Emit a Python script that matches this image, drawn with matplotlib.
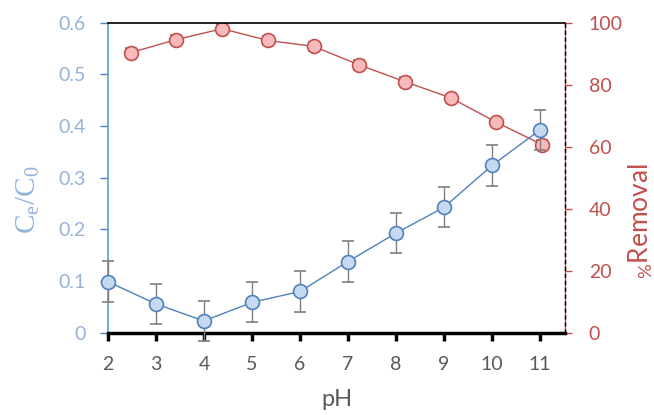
import matplotlib.pyplot as plt
import numpy as np

plt.rcParams['font.family'] = ['Lato', 'DejaVu Sans']
plt.rcParams['mathtext.fontset'] = 'custom'
plt.rcParams['mathtext.rm'] = 'Liberation Serif'
plt.rcParams['mathtext.it'] = 'Liberation Serif:italic'
plt.rcParams['mathtext.sf'] = 'Lato'

# data
ph = [2, 3, 4, 5, 6, 7, 8, 9, 10, 11]
ce_c0 = [0.099, 0.056, 0.023, 0.059, 0.080, 0.138, 0.193, 0.243, 0.324, 0.393]
ce_err = [0.04, 0.039, 0.039, 0.039, 0.04, 0.039, 0.039, 0.039, 0.039, 0.039]
removal = [90.4, 94.6, 98.1, 94.3, 92.4, 86.4, 81.0, 75.8, 67.9, 60.7]
removal_err = [1.5, 1.5, 1.5, 1.5, 1.5, 1.5, 1.5, 1.0, 1.0, 1.5]

blue = '#4f81bd'
blue_txt = '#95b3d7'
red = '#c0504d'
grey = '#595959'

fig = plt.figure(figsize=(6.54, 4.15), dpi=100)
pos = [0.165, 0.198, 0.699, 0.747]

# red series: secondary category axis (points centred in each category)
ax2 = fig.add_axes(pos)
cat = np.arange(len(removal)) + 0.5
ax2.errorbar(cat, removal, yerr=removal_err, color=red, lw=1.0,
             marker='o', ms=10, mfc='#f7b9b9', mec=red, mew=1.2,
             ecolor='#7f7f7f', elinewidth=1.0, capsize=4, zorder=3)
ax2.set_xlim(0, 10)
ax2.set_ylim(0, 100)
ax2.set_xticks([])
ax2.yaxis.tick_right()
ax2.yaxis.set_label_position('right')
ax2.set_yticks([0, 20, 40, 60, 80, 100])
ax2.tick_params(axis='y', colors=red, labelsize=14, length=5, width=1, pad=12)
ax2.set_ylabel(r'$\mathsf{_{\%}}$Removal', color=red, fontsize=19, labelpad=3)
ax2.yaxis.label.set_y(0.36)
for s in ['left', 'top', 'bottom']:
    ax2.spines[s].set_visible(False)
ax2.spines['right'].set_color(red)
ax2.spines['right'].set_linewidth(1.0)
ax2.axvline(10, color='black', lw=1.0, ls=(0, (3, 2)), zorder=5, clip_on=False)

# blue series on top
ax = fig.add_axes(pos)
ax.patch.set_alpha(0)
ax.errorbar(ph, ce_c0, yerr=ce_err, color=blue, lw=1.0,
            marker='o', ms=10, mfc='#c6d9f1', mec=blue, mew=1.2,
            ecolor='#7f7f7f', elinewidth=1.0, capsize=4, zorder=3, clip_on=False)
ax.set_xlim(2, 11.52)
ax.set_ylim(0, 0.6)
ax.set_xticks(ph)
ax.set_yticks([0, 0.1, 0.2, 0.3, 0.4, 0.5, 0.6])
ax.set_yticklabels(['0', '0.1', '0.2', '0.3', '0.4', '0.5', '0.6'])
ax.tick_params(axis='x', colors='black', labelcolor=grey, labelsize=14,
               length=6, width=2.5, direction='out', pad=11)
ax.tick_params(axis='y', colors=blue, labelcolor=blue_txt, labelsize=14,
               length=6, width=1, pad=10)
ax.set_xlabel('pH', color=grey, fontsize=17, labelpad=11)
ax.set_ylabel(r'$\mathrm{C_e/C_0}$', color=blue_txt, fontsize=21, labelpad=12)
ax.yaxis.label.set_y(0.43)
ax.spines['right'].set_visible(False)
ax.spines['left'].set_color('#5b9bd5')
ax.spines['left'].set_linewidth(1.2)
ax.spines['bottom'].set_linewidth(2.5)
ax.spines['top'].set_linewidth(1.2)

fig.savefig('out.png', dpi=100)
